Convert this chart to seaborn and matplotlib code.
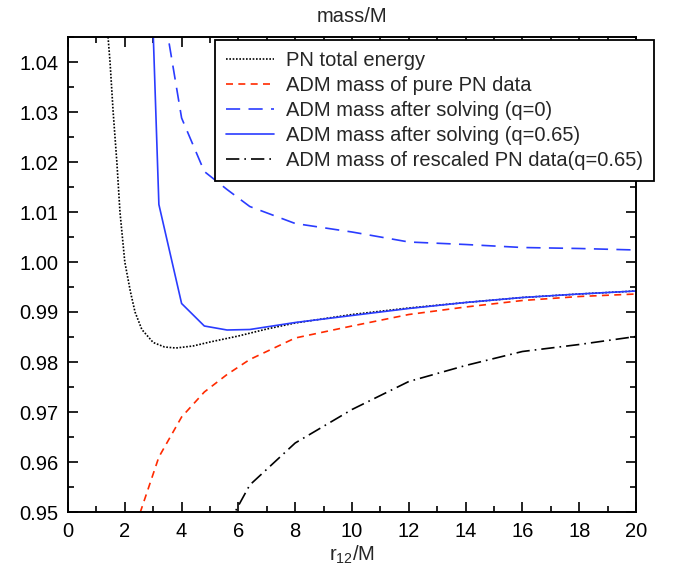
import numpy as np
import matplotlib
matplotlib.use("Agg")
import matplotlib.pyplot as plt
from matplotlib.ticker import MultipleLocator, FormatStrFormatter
import seaborn as sns

# PN total energy (black dotted)
pn_x = [1.41, 1.48, 1.59, 1.72, 1.83, 2.0, 2.2, 2.36, 2.6, 3.0, 3.4, 3.8, 4.4, 5.0, 6.0, 7.0, 8.0, 10.0, 12.0, 14.0, 16.0, 18.0, 20.0]
pn_y = [1.045, 1.040, 1.030, 1.020, 1.010, 1.000, 0.9940, 0.9900, 0.9865, 0.9839, 0.9830, 0.9828, 0.9832, 0.9840, 0.9852, 0.9866, 0.9878, 0.9895, 0.9908, 0.9919, 0.9929, 0.9936, 0.9942]

# ADM mass of pure PN data (red dashed)
red_x = [2.4, 3.2, 4.0, 4.8, 5.6, 6.4, 8.0, 10.0, 12.0, 14.0, 16.0, 18.0, 20.0]
red_y = [0.9475, 0.9610, 0.9690, 0.9740, 0.9775, 0.9805, 0.9848, 0.9872, 0.9895, 0.9910, 0.9923, 0.9931, 0.9936]

# ADM mass after solving q=0 (blue long dashes)
q0_x = [3.2, 4.0, 4.8, 5.6, 6.4, 8.0, 10.0, 12.0, 14.0, 16.0, 18.0, 20.0]
q0_y = [1.056, 1.0288, 1.0181, 1.0145, 1.0111, 1.0077, 1.0060, 1.0040, 1.0035, 1.0029, 1.0027, 1.0024]

# ADM mass after solving q=0.65 (blue solid)
q65_x = [2.8, 3.2, 4.0, 4.8, 5.6, 6.4, 8.0, 10.0, 12.0, 14.0, 16.0, 18.0, 20.0]
q65_y = [1.080, 1.0115, 0.9917, 0.9872, 0.9864, 0.9865, 0.9879, 0.9893, 0.9907, 0.9919, 0.9929, 0.9936, 0.9942]

# ADM mass of rescaled PN data (black dash-dot)
resc_x = [5.6, 6.4, 8.0, 10.0, 12.0, 14.0, 16.0, 18.0, 20.0]
resc_y = [0.9471, 0.9554, 0.9638, 0.9705, 0.9761, 0.9793, 0.9821, 0.9835, 0.9851]

sns.set_style("ticks")
plt.rcParams["font.family"] = ["Liberation Sans", "DejaVu Sans"]
plt.rcParams["mathtext.fontset"] = "custom"
plt.rcParams["mathtext.rm"] = "Liberation Sans"

fs = 14.5
fig = plt.figure(figsize=(6.73, 5.72), dpi=100)
ax = fig.add_axes([68 / 673, 1 - 512 / 572, 568 / 673, 475 / 572])

lw = 1.2
sns.lineplot(x=pn_x, y=pn_y, ax=ax, color="black", lw=lw, linestyle=(0, (1, 1)), label="PN total energy")
sns.lineplot(x=red_x, y=red_y, ax=ax, color="#ff2a00", lw=lw, linestyle=(0, (4.2, 3.2)), label="ADM mass of pure PN data")
sns.lineplot(x=q0_x, y=q0_y, ax=ax, color="#2a3cff", lw=lw, linestyle=(0, (8.5, 5)), label="ADM mass after solving (q=0)")
sns.lineplot(x=q65_x, y=q65_y, ax=ax, color="#2a3cff", lw=lw, label="ADM mass after solving (q=0.65)")
sns.lineplot(x=resc_x, y=resc_y, ax=ax, color="black", lw=lw, linestyle=(0, (8, 3, 1, 3)), label="ADM mass of rescaled PN data(q=0.65)")

ax.set_xlim(0, 20)
ax.set_ylim(0.95, 1.045)
ax.xaxis.set_major_locator(MultipleLocator(2))
ax.xaxis.set_minor_locator(MultipleLocator(1))
ax.yaxis.set_major_locator(MultipleLocator(0.01))
ax.yaxis.set_minor_locator(MultipleLocator(0.005))
ax.yaxis.set_major_formatter(FormatStrFormatter("%.2f"))
ax.tick_params(which="both", direction="in", top=True, right=True, labelsize=fs, width=1.2, colors="black")
ax.tick_params(which="major", length=7, pad=7)
ax.tick_params(which="minor", length=4)
for s in ax.spines.values():
    s.set_linewidth(1.4)
    s.set_color("black")

ax.set_title("mass/M", fontsize=fs, pad=11)
ax.set_xlabel(r"r$_{\mathregular{12}}$/M", fontsize=fs, labelpad=2)
ax.set_ylabel("")

leg = ax.legend(loc="upper right", bbox_to_anchor=(1.032, 0.994), borderaxespad=0,
                fontsize=fs, handlelength=2.4, handletextpad=0.6, labelspacing=0.3,
                fancybox=False, framealpha=1, edgecolor="black", borderpad=0.55)
leg.get_frame().set_linewidth(1.3)
leg.set_clip_on(False)

fig.savefig("out.png", dpi=100)
